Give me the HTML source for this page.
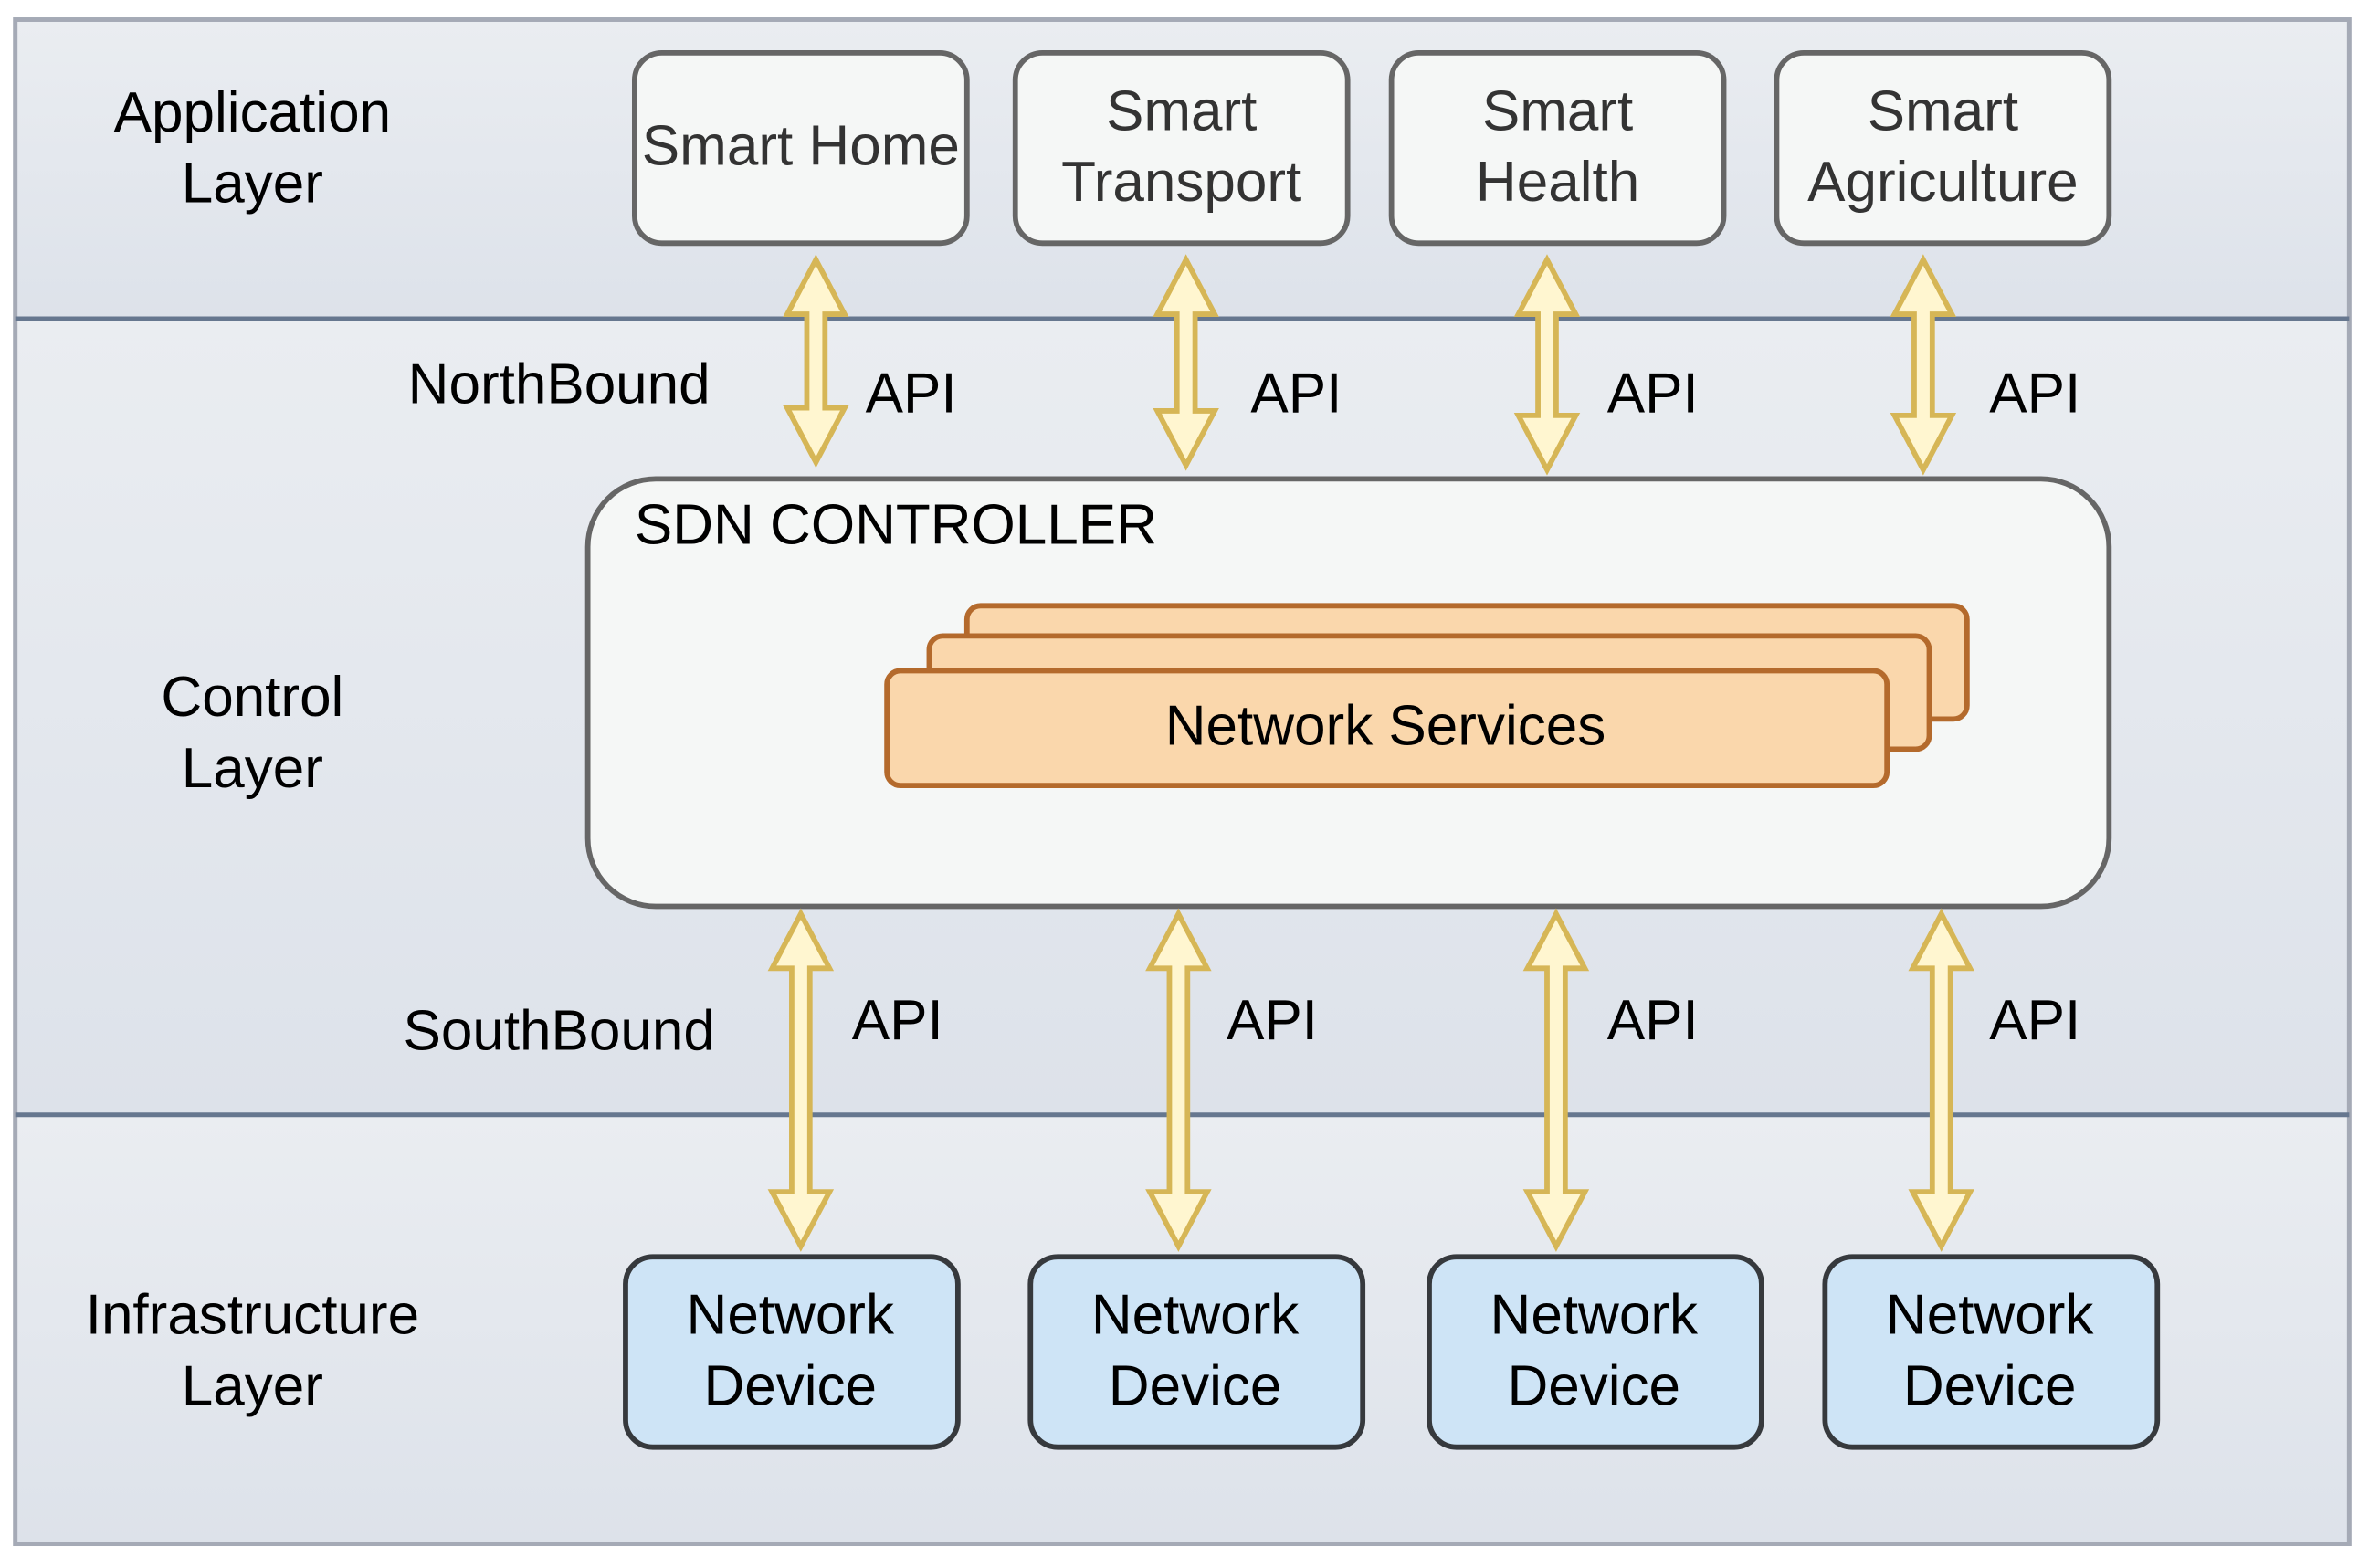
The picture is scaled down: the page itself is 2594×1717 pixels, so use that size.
<!DOCTYPE html>
<html><head><meta charset="utf-8"><style>html,body{margin:0;padding:0;background:#fff}svg{display:block}</style></head>
<body>
<svg width="2594" height="1717" viewBox="0 0 1568 1038" xmlns="http://www.w3.org/2000/svg" font-family="Liberation Sans, sans-serif">
<defs>
<linearGradient id="g" x1="0" y1="0" x2="0" y2="1"><stop offset="0" stop-color="#eaedf1"/><stop offset="1" stop-color="#dde2ea"/></linearGradient>
</defs>
<rect x="0" y="0" width="1568" height="1038" fill="#fff"/>
<rect x="10" y="13" width="1545" height="198" fill="url(#g)"/>
<rect x="10" y="211" width="1545" height="527" fill="url(#g)"/>
<rect x="10" y="738" width="1545" height="284" fill="url(#g)"/>
<rect x="10" y="13" width="1545" height="1009" fill="none" stroke="#a5aab6" stroke-width="3"/>
<line x1="10" y1="211" x2="1555" y2="211" stroke="#66778f" stroke-width="3"/>
<line x1="10" y1="738" x2="1555" y2="738" stroke="#66778f" stroke-width="3"/>

<g fill="#f5f7f6" stroke="#666" stroke-width="3.5">
<rect x="420" y="35" width="220" height="126" rx="18"/>
<rect x="672" y="35" width="220" height="126" rx="18"/>
<rect x="921" y="35" width="220" height="126" rx="18"/>
<rect x="1176" y="35" width="220" height="126" rx="18"/>
<rect x="389" y="317" width="1007" height="283" rx="45"/>
</g>
<g fill="#fad7ac" stroke="#b46a2c" stroke-width="3.5">
<rect x="640" y="401" width="662" height="75" rx="9"/>
<rect x="615" y="421" width="662" height="75" rx="9"/>
<rect x="587" y="444" width="662" height="76" rx="9"/>
</g>
<g fill="#cee4f6" stroke="#36393d" stroke-width="3.5">
<rect x="414" y="832" width="220" height="126" rx="18"/>
<rect x="682" y="832" width="220" height="126" rx="18"/>
<rect x="946" y="832" width="220" height="126" rx="18"/>
<rect x="1208" y="832" width="220" height="126" rx="18"/>
</g>

<g fill="#fff6d0" stroke="#d6b656" stroke-width="3.5" stroke-linejoin="miter">
<path d="M540 172 L559 208 L546 208 L546 270 L559 270 L540 306 L521 270 L534 270 L534 208 L521 208 Z"/>
<path d="M785 172 L804 208 L791 208 L791 272 L804 272 L785 308 L766 272 L779 272 L779 208 L766 208 Z"/>
<path d="M1024 172 L1043 208 L1030 208 L1030 275 L1043 275 L1024 311 L1005 275 L1018 275 L1018 208 L1005 208 Z"/>
<path d="M1273 172 L1292 208 L1279 208 L1279 275 L1292 275 L1273 311 L1254 275 L1267 275 L1267 208 L1254 208 Z"/>
<path d="M530 605 L549 641 L536 641 L536 789 L549 789 L530 825 L511 789 L524 789 L524 641 L511 641 Z"/>
<path d="M780 605 L799 641 L786 641 L786 789 L799 789 L780 825 L761 789 L774 789 L774 641 L761 641 Z"/>
<path d="M1030 605 L1049 641 L1036 641 L1036 789 L1049 789 L1030 825 L1011 789 L1024 789 L1024 641 L1011 641 Z"/>
<path d="M1285 605 L1304 641 L1291 641 L1291 789 L1304 789 L1285 825 L1266 789 L1279 789 L1279 641 L1266 641 Z"/>
</g>

<g font-size="37.5" fill="#000" text-anchor="middle">
<text x="167" y="87">Application</text><text x="167" y="134">Layer</text>
<text x="167" y="474">Control</text><text x="167" y="521">Layer</text>
<text x="167" y="883">Infrastructure</text><text x="167" y="930">Layer</text>
<text x="370" y="267">NorthBound</text>
<text x="370" y="695">SouthBound</text>
<text x="603" y="273">API</text><text x="858" y="273">API</text><text x="1094" y="273">API</text><text x="1347" y="273">API</text>
<text x="594" y="688">API</text><text x="842" y="688">API</text><text x="1094" y="688">API</text><text x="1347" y="688">API</text>
<text x="917" y="493">Network Services</text>
<text x="523" y="883">Network</text><text x="523" y="930">Device</text>
<text x="791" y="883">Network</text><text x="791" y="930">Device</text>
<text x="1055" y="883">Network</text><text x="1055" y="930">Device</text>
<text x="1317" y="883">Network</text><text x="1317" y="930">Device</text>
</g>
<g font-size="37.5" fill="#333" text-anchor="middle">
<text x="530" y="109">Smart Home</text>
<text x="782" y="86">Smart</text><text x="782" y="133">Transport</text>
<text x="1031" y="86">Smart</text><text x="1031" y="133">Health</text>
<text x="1286" y="86">Smart</text><text x="1286" y="133">Agriculture</text>
</g>
<text x="420" y="360" font-size="37.5" fill="#000">SDN CONTROLLER</text>
</svg>
</body></html>
